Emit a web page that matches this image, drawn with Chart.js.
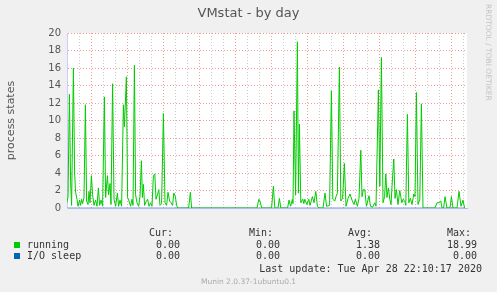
<!DOCTYPE html>
<html>
<head>
<meta charset="utf-8">
<script src="https://cdn.jsdelivr.net/npm/chart.js@4"></script>
<style>
  body { margin: 0; background: #f0f0f0; }
  #wrap { position: relative; width: 497px; height: 292px; overflow: hidden; }
  #wrap canvas { position: absolute; left: 0; top: 0; }
  .t { position: absolute; white-space: pre; line-height: 12px; }
  .mono { font: 10px "DejaVu Sans Mono", monospace; color: #333; }
  .sq { position: absolute; width: 6px; height: 6px; }
</style>
</head>
<body>
<div id="wrap">
  <canvas id="c" width="497" height="292"></canvas>
  <div class="t" style="left:0;width:497px;top:5px;text-align:center;font:13px 'DejaVu Sans';color:#555;line-height:16px">VMstat - by day</div>
  <div class="t" style="left:482px;top:4px;font:7.5px 'DejaVu Sans';color:#c4c4c4;transform-origin:0 0;transform:translate(11px,0) rotate(90deg)">RRDTOOL / TOBI OETIKER</div>
  <div id="legend"></div>
  <div class="t" style="left:0;width:497px;top:277px;text-align:center;font:7.5px 'DejaVu Sans';color:#aaa;line-height:10px">Munin 2.0.37-1ubuntu0.1</div>
</div>
<script>
// minutes since Mon 00:00, one reading per sample
var times = [778, 785, 792, 798, 803, 812, 818, 823, 830, 835, 843, 848, 853, 858, 865, 872, 878, 885, 890, 895,
  902, 908, 915, 923, 930, 937, 943, 950, 958, 967, 973, 982, 988, 995, 1000, 1008, 1015, 1023, 1032, 1038,
  1045, 1053, 1062, 1067, 1077, 1083, 1090, 1098, 1105, 1110, 1117, 1123, 1130, 1138, 1145, 1152, 1157, 1162, 1168, 1175,
  1183, 1190, 1198, 1205, 1212, 1219, 1225, 1232, 1239, 1245, 1253, 1262, 1270, 1278, 1285, 1293, 1300, 1308, 1314, 1322,
  1328, 1333, 1388, 1397, 1403, 1730, 1739, 1745, 1753, 1803, 1812, 1819, 1835, 1842, 1849, 1883, 1890, 1898, 1907, 1910,
  1915, 1923, 1932, 1937, 1942, 1949, 1959, 1964, 1969, 1979, 1989, 1995, 2007, 2015, 2024, 2032, 2040, 2060, 2070, 2078,
  2093, 2102, 2109, 2119, 2125, 2132, 2142, 2149, 2158, 2167, 2175, 2185, 2195, 2205, 2215, 2222, 2232, 2240, 2249, 2255,
  2262, 2269, 2277, 2290, 2297, 2308, 2319, 2325, 2337, 2344, 2352, 2360, 2368, 2374, 2380, 2387, 2394, 2400, 2407, 2414,
  2420, 2427, 2435, 2444, 2454, 2460, 2469, 2474, 2482, 2489, 2497, 2505, 2514, 2520, 2527, 2535, 2544, 2552, 2560, 2620,
  2630, 2640, 2649, 2655, 2663, 2670, 2680, 2695, 2702, 2710, 2730, 2740, 2750, 2760, 2768];
var running = [0.5, 1.2, 13.0, 3.0, 0.3, 16.0, 4.0, 1.8, 1.0, 0.2, 0.9, 0.3, 1.0, 0.5, 1.2, 11.8, 0.8, 0.4, 1.9, 0.6,
  3.7, 1.5, 0.3, 0.9, 0.2, 2.3, 0.3, 0.9, 0.2, 12.7, 1.2, 3.7, 1.5, 2.8, 0.4, 14.2, 1.0, 0.2, 1.7, 0.2,
  0.9, 0.2, 11.8, 9.3, 15.0, 1.2, 0.8, 0.2, 1.0, 0.3, 16.3, 1.5, 0.6, 0.2, 1.3, 5.4, 1.2, 2.7, 0.3, 0.7,
  1.0, 0.2, 0.6, 0.2, 3.7, 3.9, 1.0, 1.5, 2.1, 0.3, 0.5, 10.8, 0.6, 0.3, 1.8, 0.8, 0.6, 0.3, 1.7, 1.3,
  0.3, 0, 0, 1.8, 0, 0, 1.0, 0.8, 0, 0, 2.5, 0, 0, 1.1, 0, 0, 0.9, 0.2, 1.0, 0.5,
  11.1, 1.5, 18.99, 1.7, 9.6, 0.6, 1.0, 0.5, 1.0, 0.4, 1.0, 0.3, 1.3, 0.6, 1.9, 0.2, 0, 0, 1.7, 0.2,
  0.3, 13.4, 1.0, 0.8, 1.3, 1.7, 16.1, 0.8, 1.1, 5.1, 0.2, 1.1, 1.6, 0.9, 0.4, 1.0, 0.2, 1.1, 6.6, 1.3,
  2.1, 2.1, 0.2, 1.4, 0.2, 0.1, 0.6, 0.2, 13.5, 2.5, 17.2, 0.6, 1.3, 3.9, 1.2, 2.3, 1.0, 0.4, 3.2, 5.6,
  1.1, 2.1, 0.4, 2.0, 0.6, 1.0, 0.8, 0.3, 10.7, 0.6, 1.1, 0.4, 1.6, 1.3, 13.2, 0.4, 1.0, 11.9, 0, 0,
  0.6, 0.6, 0.8, 0, 0, 1.3, 0, 0, 1.3, 0, 0, 1.9, 0.2, 0.9, 0];
var ioTimes = [780, 2770];
var ioSleep = [0, 0];

var tickTimes = [1080, 1440, 1800, 2160, 2520];
var tickLabels = ['Mon 18:00', 'Tue 00:00', 'Tue 06:00', 'Tue 12:00', 'Tue 18:00'];

var seriesNames = ['running', 'I/O sleep'];
var seriesColors = ['#00cc00', '#0066b3'];
var curVals = ['0.00', '0.00'];
var minVals = ['0.00', '0.00'];
var avgVals = ['1.38', '0.00'];
var maxVals = ['18.99', '0.00'];
var lastUpdate = 'Last update: Tue Apr 28 22:10:17 2020';

// legend block (munin style text table)
var lg = document.getElementById('legend');
var html = '';
var heads = [['Cur:', 149], ['Min:', 249], ['Avg:', 348], ['Max:', 447]];
heads.forEach(function (h) {
  html += '<div class="t mono" style="left:' + h[1] + 'px;top:227px">' + h[0] + '</div>';
});
var colRight = [180, 280, 380, 477];
seriesNames.forEach(function (name, i) {
  var top = 239 + i * 11;
  html += '<div class="sq" style="left:14px;top:' + (top + 3) + 'px;background:' + seriesColors[i] + '"></div>';
  html += '<div class="t mono" style="left:27px;top:' + top + 'px">' + name + '</div>';
  [curVals[i], minVals[i], avgVals[i], maxVals[i]].forEach(function (v, j) {
    html += '<div class="t mono" style="right:' + (497 - colRight[j]) + 'px;top:' + top + 'px">' + v + '</div>';
  });
});
html += '<div class="t mono" style="right:15px;top:263px">' + lastUpdate + '</div>';
lg.innerHTML = html;

Chart.defaults.font.family = 'DejaVu Sans';
Chart.defaults.color = '#555';

var majorGrid = 'rgba(240,120,120,0.75)';
var minorGrid = 'rgba(190,190,190,0.8)';

var plotBg = {
  id: 'plotBg',
  beforeDraw: function (chart) {
    var a = chart.chartArea;
    chart.ctx.save();
    chart.ctx.fillStyle = '#ffffff';
    chart.ctx.fillRect(a.left, a.top, a.right - a.left, a.bottom - a.top);
    chart.ctx.restore();
  }
};

var ctx = document.getElementById('c').getContext('2d');
var chart = new Chart(ctx, {
  type: 'line',
  data: {
    datasets: [{
      label: seriesNames[0],
      data: running.map(function (v, i) { return { x: times[i], y: v }; }),
      borderColor: seriesColors[0],
      borderWidth: 1,
      pointRadius: 0,
      tension: 0,
      fill: false
    }, {
      label: seriesNames[1],
      data: ioSleep.map(function (v, i) { return { x: ioTimes[i], y: v }; }),
      borderColor: '#7799dd',
      borderWidth: 1,
      pointRadius: 0,
      tension: 0,
      fill: false
    }]
  },
  options: {
    responsive: false,
    animation: false,
    devicePixelRatio: 1,
    layout: { padding: { left: 0, top: 33, right: 30, bottom: 84 } },
    plugins: { legend: { display: false }, tooltip: { enabled: false } },
    scales: {
      x: {
        type: 'linear',
        min: 780,
        max: 2780,
        afterFit: function (s) { s.height = 0; },
        afterBuildTicks: function (s) {
          var t = [];
          for (var m = 840; m <= 2760; m += 60) t.push({ value: m });
          s.ticks = t;
        },
        ticks: {
          autoSkip: false,
          maxRotation: 0,
          padding: 4,
          font: { size: 10 },
          color: '#555',
          callback: function (v) {
            var i = tickTimes.indexOf(v);
            return i >= 0 ? tickLabels[i] : '';
          }
        },
        grid: {
          drawTicks: false,
          color: function (c) { return c.tick && c.tick.value % 180 === 0 ? majorGrid : minorGrid; }
        },
        border: { display: true, color: '#aabbee', dash: [1, 2] }
      },
      y: {
        min: 0,
        max: 20,
        afterFit: function (s) { s.width = 67; },
        ticks: {
          stepSize: 1,
          padding: 6,
          font: { size: 10 },
          color: '#555',
          callback: function (v) { return v % 2 === 0 ? v : ''; }
        },
        grid: {
          drawTicks: false,
          color: function (c) { return c.tick && c.tick.value % 2 === 0 ? majorGrid : minorGrid; }
        },
        border: { display: true, color: '#ccccff', dash: [1, 2] },
        title: {
          display: true,
          text: 'process states',
          font: { size: 11 },
          color: '#555',
          padding: { top: 5, bottom: 0 }
        }
      }
    }
  },
  plugins: [plotBg]
});
</script>
</body>
</html>
